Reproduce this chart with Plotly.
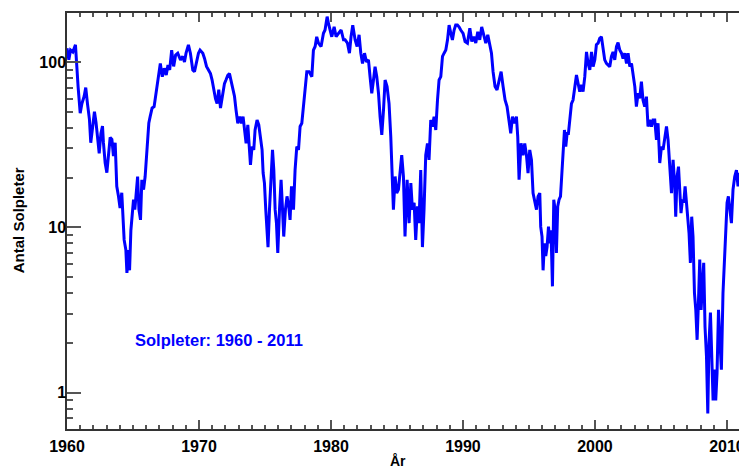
import plotly.graph_objects as go

# Monthly sunspot numbers (year, value)
years = [
    1960.00, 1960.14, 1960.27, 1960.44, 1960.64, 1960.74, 1960.84, 1961.00, 1961.13, 1961.30,
    1961.42, 1961.55, 1961.70, 1961.80, 1961.93, 1962.08, 1962.20, 1962.33, 1962.44, 1962.57,
    1962.69, 1962.76, 1962.89, 1963.02, 1963.15, 1963.27, 1963.40, 1963.52, 1963.65, 1963.77,
    1963.90, 1964.02, 1964.15, 1964.22, 1964.33, 1964.46, 1964.54, 1964.66, 1964.74, 1964.84,
    1964.94, 1965.04, 1965.14, 1965.24, 1965.35, 1965.45, 1965.57, 1965.67, 1965.80, 1965.92,
    1966.05, 1966.20, 1966.30, 1966.45, 1966.60, 1966.70, 1966.80, 1966.92, 1967.07, 1967.22,
    1967.37, 1967.52, 1967.65, 1967.78, 1967.93, 1968.08, 1968.23,
    1968.39, 1968.60, 1968.77, 1968.90, 1969.02, 1969.20, 1969.35, 1969.53, 1969.66, 1969.81,
    1969.96, 1970.08, 1970.29, 1970.42, 1970.57, 1970.72, 1970.87, 1970.99, 1971.12, 1971.25,
    1971.37, 1971.50, 1971.63, 1971.78, 1971.93, 1972.05, 1972.18, 1972.31, 1972.43, 1972.56,
    1972.69, 1972.81, 1972.94, 1973.09, 1973.22, 1973.34, 1973.45, 1973.57, 1973.70, 1973.80,
    1973.90, 1974.02, 1974.15, 1974.25, 1974.40, 1974.53, 1974.66, 1974.78, 1974.86, 1974.96,
    1975.06, 1975.16, 1975.23, 1975.34, 1975.46, 1975.57, 1975.67, 1975.77, 1975.87, 1975.97,
    1976.10, 1976.22, 1976.33, 1976.42, 1976.55, 1976.67, 1976.80, 1976.90, 1977.01,
    1977.16, 1977.28, 1977.41, 1977.54, 1977.66, 1977.79, 1977.92, 1978.04, 1978.17, 1978.34,
    1978.55, 1978.67, 1978.80, 1978.92, 1979.05, 1979.25, 1979.43, 1979.55, 1979.71, 1979.81,
    1979.93, 1980.06, 1980.24, 1980.39, 1980.57, 1980.77, 1980.95, 1981.07, 1981.25, 1981.40,
    1981.52, 1981.65, 1981.83, 1981.98, 1982.13, 1982.26, 1982.39, 1982.54, 1982.69, 1982.84,
    1982.96, 1983.09, 1983.22, 1983.34, 1983.47, 1983.60, 1983.72, 1983.85, 1983.98, 1984.10,
    1984.25, 1984.40, 1984.53, 1984.61, 1984.73, 1984.86, 1984.98, 1985.11, 1985.23, 1985.36,
    1985.49, 1985.61, 1985.77,
    1985.92, 1986.05, 1986.17, 1986.30, 1986.42, 1986.55, 1986.67, 1986.80, 1986.93, 1987.05,
    1987.18, 1987.31, 1987.43, 1987.56, 1987.69, 1987.81, 1987.94, 1988.07, 1988.19, 1988.32,
    1988.45, 1988.57, 1988.70, 1988.83, 1988.95, 1989.08, 1989.20, 1989.33, 1989.45, 1989.58,
    1989.70, 1989.83, 1990.01, 1990.16, 1990.34, 1990.52, 1990.67, 1990.82, 1990.97, 1991.12,
    1991.27, 1991.42, 1991.58, 1991.73, 1991.88, 1992.03, 1992.16, 1992.28, 1992.43, 1992.58,
    1992.73, 1992.89, 1993.04, 1993.19, 1993.34, 1993.49, 1993.62, 1993.75, 1993.90, 1994.05,
    1994.15, 1994.25, 1994.40,
    1994.55, 1994.68, 1994.81, 1994.93, 1995.06, 1995.19, 1995.31, 1995.44, 1995.57, 1995.69,
    1995.82, 1995.89, 1995.99, 1996.07, 1996.17, 1996.27, 1996.37, 1996.48, 1996.58, 1996.67,
    1996.78, 1996.88, 1996.98, 1997.08, 1997.18, 1997.28, 1997.39, 1997.48, 1997.58, 1997.69,
    1997.79, 1997.89, 1997.99, 1998.09, 1998.22, 1998.34, 1998.47, 1998.60, 1998.72, 1998.85,
    1998.98, 1999.10, 1999.23, 1999.36, 1999.48, 1999.61, 1999.74, 1999.86, 1999.99, 2000.11,
    2000.24, 2000.36, 2000.49, 2000.61, 2000.74, 2000.87, 2000.99, 2001.12, 2001.25, 2001.37,
    2001.50, 2001.63, 2001.75, 2001.88, 2002.01, 2002.13, 2002.26, 2002.39, 2002.51, 2002.64,
    2002.77, 2002.89, 2003.02, 2003.14, 2003.27, 2003.39, 2003.52, 2003.64, 2003.77, 2003.90,
    2004.02, 2004.15, 2004.28, 2004.40, 2004.53, 2004.66, 2004.78, 2004.91, 2005.04, 2005.16,
    2005.29, 2005.42, 2005.54, 2005.67, 2005.80, 2005.92, 2006.05, 2006.12, 2006.22, 2006.33,
    2006.42, 2006.52, 2006.63, 2006.73, 2006.83, 2006.93, 2007.03, 2007.13, 2007.23, 2007.33,
    2007.43, 2007.54, 2007.64, 2007.74, 2007.84, 2007.94, 2008.04, 2008.14, 2008.24, 2008.34,
    2008.45, 2008.55, 2008.64, 2008.75, 2008.85, 2008.95, 2009.05, 2009.15, 2009.25, 2009.36,
    2009.45, 2009.58, 2009.70, 2009.81, 2009.91, 2010.01, 2010.11, 2010.21, 2010.34, 2010.46,
    2010.59, 2010.72, 2010.84, 2010.97, 2011.10, 2011.17, 2011.27, 2011.32,
]

sunspots = [
    121, 103, 118, 115, 127, 85, 71, 49, 56, 62,
    70, 56, 45, 32.5, 41, 50, 43, 35, 28, 37,
    41, 32.5, 24.6, 21.4, 27, 35, 34, 27, 32.5, 17.7,
    15.4, 13.1, 16.2, 11.6, 8.4, 7.3, 5.3, 7.3, 5.5, 9.6,
    12.8, 14.7, 12.8, 16.9, 20.3, 12.8, 11.1, 19.4, 16.9, 20.3,
    29.4, 42.8, 46.7, 52.7, 53.7, 61.7, 67.8, 81.5, 98, 81.5,
    91.6, 83.4, 96, 89.5, 118, 94, 110,
    113, 103, 108, 100, 113, 127, 113, 89.5, 87.4, 98,
    113, 118, 113, 105, 94, 89.5, 85, 78, 68, 60,
    56, 68, 52.6, 61.7, 74, 78, 83, 85, 76, 68,
    62, 51, 42.6, 46.7, 42.6, 46.7, 38.8, 32.2, 41.6, 29.4,
    23.9, 30.8, 29.4, 38.8, 44.6, 41.6, 35.4, 29.4, 21.3, 18.5,
    12.8, 10.1, 7.6, 12.8, 22.2, 29.4, 22.2, 12.8, 10.6, 7.0,
    12.8, 19.4, 12.8, 8.8, 12.8, 15.4, 13.4, 11.1, 17.7,
    12.8, 22.2, 30.8, 29.4, 40.7, 42.6, 56, 71, 87.4, 87.4,
    81.5, 118, 124, 142, 130, 124, 149, 156, 188, 171,
    156, 142, 163, 142, 149, 156, 136, 136, 130, 113,
    142, 167, 136, 124, 146, 113, 98, 113, 100, 103,
    81.5, 64.7, 77.8, 93.7, 81.5, 64.7, 46.7, 36.2, 51.3, 77.8,
    71, 56, 35.4, 20.3, 12.8, 20.3, 16.1, 16.9, 22.2, 27.3,
    20.3, 8.8, 19.4,
    10.6, 18.5, 12.8, 14.1, 8.4, 13.4, 10.6, 22.2, 7.6, 12.8,
    27.3, 32.2, 25.6, 44.6, 40.7, 46.7, 38.8, 58.9, 77.8, 81.5,
    108, 113, 118, 136, 167, 149, 136, 156, 167, 167,
    163, 156, 149, 133, 130, 160, 133, 142, 130, 152,
    136, 163, 142, 130, 146, 130, 113, 87.4, 71, 67.8,
    77.8, 87.4, 71, 58.9, 53.7, 44.6, 37, 46.7, 42.6, 46.7,
    35.4, 19.4, 32.2,
    27.3, 32.2, 27.3, 21.3, 29.4, 25.6, 16.1, 14.1, 12.8, 15.4,
    16.1, 10.1, 8.8, 5.5, 8.0, 6.7, 7.6, 10.1, 8.0, 9.6,
    4.4, 14.7, 12.8, 7.0, 13.4, 14.7, 15.4, 20.3, 29.4, 38.8,
    30.8, 37, 37, 46.7, 56, 58.9, 71, 83.4, 74.4, 66.2,
    72.6, 66.2, 81.5, 115, 98, 89.5, 115, 93.7, 103, 127,
    130, 139, 142, 124, 103, 98, 96, 93.7, 108, 115,
    103, 124, 131, 118, 113, 105, 113, 98, 113, 93.7,
    98, 85, 71, 53.7, 64.7, 60.3, 76, 58.9, 53.7, 61.7,
    40.7, 44.6, 40.7, 44.6, 44.6, 33.8, 42.6, 24.5, 30.8, 29.4,
    35.4, 40.7, 33.8, 22.2, 16.1, 25.6, 17.7, 11.6, 20.3, 23.3,
    16.9, 12.2, 14.7, 14.1, 17.7, 14.1, 11.1, 9.2, 6.1, 11.6,
    8.8, 4.0, 3.17, 2.09, 3.5, 6.4, 3.17, 4.6, 6.1, 2.5,
    1.66, 0.75, 2.0, 3.05, 1.58, 0.9, 1.38, 0.9, 1.32, 3.17,
    2.2, 1.38, 4.0, 6.1, 8.8, 14.1, 15.4, 13.4, 10.6, 16.9,
    20.3, 22.2, 17.7, 21.3, 18.5, 35.4, 19.4, 23.0,
]

x_major = [1960, 1970, 1980, 1990, 2000, 2010]
x_minor = [y for y in range(1961, 2012) if y % 10 != 0]
y_major = [1, 10, 100]
y_major_labels = ["1", "10", "100"]
y_minor = [0.6, 0.7, 0.8, 0.9, 2, 3, 4, 5, 6, 7, 8, 9,
           20, 30, 40, 50, 60, 70, 80, 90]

x_range = [1960, 2011.52]
y_log_range = [-0.219, 2.296]

FONT = "Liberation Sans, Arial, Helvetica, sans-serif"
AX = "#333333"
TK = "#555555"

fig = go.Figure()
fig.add_trace(go.Scatter(
    x=years, y=sunspots, mode="lines",
    line=dict(color="#0000ff", width=3),
    showlegend=False, hoverinfo="skip",
))
# invisible copy to make the right-hand tick axis render
fig.add_trace(go.Scatter(
    x=years, y=sunspots, mode="lines", yaxis="y2",
    line=dict(color="rgba(0,0,0,0)", width=0),
    showlegend=False, hoverinfo="skip",
))

# the page body has an 8px margin, so the figure is sized/offset to compensate
fig.update_layout(
    width=739, height=462,
    margin=dict(l=59, r=0, t=5, b=41, autoexpand=False),
    paper_bgcolor="white", plot_bgcolor="white",
    font=dict(family=FONT, color="black"),
    xaxis=dict(
        range=x_range, tickmode="array", tickvals=x_major,
        ticktext=[str(v) for v in x_major], automargin=False,
        ticks="inside", ticklen=9, tickwidth=1.5, tickcolor=TK,
        minor=dict(tickmode="array", tickvals=x_minor, ticks="inside",
                   ticklen=4, tickwidth=1.5, tickcolor=TK, showgrid=False),
        showline=True, linecolor=AX, linewidth=1.5, mirror="ticks",
        showgrid=False, zeroline=False, ticklabelstandoff=2,
        tickfont=dict(family=FONT, size=16, weight="bold", color="black"),
    ),
    yaxis=dict(
        type="log", range=y_log_range, tickmode="array",
        tickvals=y_major, ticktext=y_major_labels, automargin=False,
        ticks="inside", ticklen=14, tickwidth=1.5, tickcolor=TK,
        minor=dict(tickmode="array", tickvals=y_minor, ticks="inside",
                   ticklen=6, tickwidth=1.5, tickcolor=TK, showgrid=False),
        showline=True, linecolor=AX, linewidth=1.5,
        showgrid=False, zeroline=False, ticklabelstandoff=-4,
        tickfont=dict(family=FONT, size=16, weight="bold", color="black"),
    ),
    yaxis2=dict(
        type="log", range=y_log_range, overlaying="y", side="right",
        tickmode="array", tickvals=y_major, ticks="inside", ticklen=7,
        tickwidth=1.5, tickcolor=TK, showticklabels=False, automargin=False,
        showline=False, showgrid=False, zeroline=False,
    ),
    annotations=[
        dict(text="Solpleter: 1960 - 2011", x=1965.0, y=0.32, xref="x", yref="y",
             xanchor="left", yanchor="middle", showarrow=False,
             font=dict(family=FONT, size=16.5, weight="bold", color="#0000ff")),
        dict(text="Antal Solpleter", textangle=-90, x=-0.072, y=0.502,
             xref="paper", yref="paper", xanchor="center", yanchor="middle",
             showarrow=False,
             font=dict(family=FONT, size=15, weight="bold", color="black")),
        dict(text="År", x=0.487, y=-0.077, xref="paper", yref="paper",
             xanchor="center", yanchor="middle", showarrow=False,
             font=dict(family=FONT, size=14, weight="bold", color="black")),
    ],
)

fig.write_html("out.html")
